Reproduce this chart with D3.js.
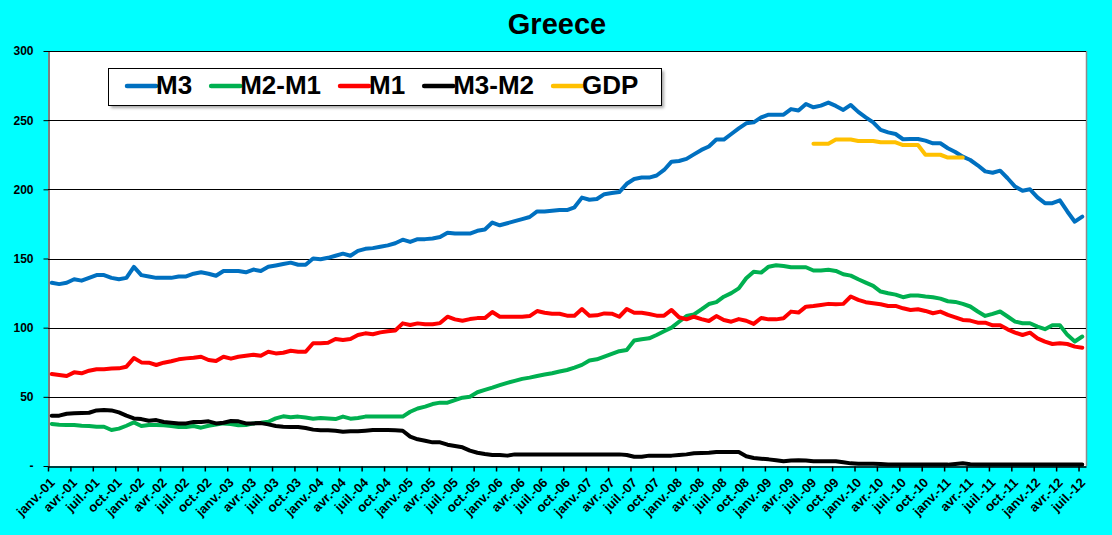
<!DOCTYPE html>
<html>
<head>
<meta charset="utf-8">
<script src="https://cdn.jsdelivr.net/npm/d3@7"></script>
<style>
  html, body { margin: 0; padding: 0; background: #00FFFF; }
  svg { display: block; font-family: "Liberation Sans", Arial, sans-serif; }
</style>
</head>
<body>
<svg id="chart"></svg>
<script>
// Greece - monetary aggregates, monthly from janv.-01 to juil.-12
const monthNames = ["janv.", "févr.", "mars", "avr.", "mai", "juin", "juil.", "août", "sept.", "oct.", "nov.", "déc."];
const yearLabels = ["01", "02", "03", "04", "05", "06", "07", "08", "09", "10", "11", "12"];
const nMonths = 139;
const yTicks = [0, 50, 100, 150, 200, 250, 300];

// one line per year (12 months)
const m3 = [
    132.5, 131.5, 132.5, 135, 134, 136, 138, 138, 136, 135, 136, 144,
    138, 137, 136, 136, 136, 137, 137, 139, 140, 139, 137.5, 141,
    141, 141, 140, 142, 141, 144, 145, 146, 147, 145.5, 145.5, 150,
    149.5, 150.5, 152, 153.5, 152, 155.5, 157, 157.5, 158.5, 159.5, 161, 163.6,
    162, 164, 164, 164.5, 165.5, 168.6, 168, 168, 168, 170, 171, 176,
    174, 175.5, 177, 178.5, 180, 184, 184, 184.5, 185, 185, 187, 194,
    192.5, 193, 196.5, 197.3, 198, 204, 207.5, 208.5, 208.5, 210, 214, 220,
    220.5, 222, 225.3, 228.5, 231, 236, 236, 240, 244, 247.7, 248.4, 252,
    254, 254, 254, 258, 257, 261.7, 259.3, 260.5, 262.7, 260.3, 257.4, 261,
    256, 252, 248.4, 243, 241.2, 240, 236.2, 236.4, 236.4, 235.2, 233.3, 233.3,
    229.7, 227, 223.6, 221.2, 217.4, 213, 212, 213.5, 208, 202, 199, 200,
    194.2, 190, 190, 192, 184, 176.6, 180.3
];
const m2m1 = [
    30.4, 29.9, 29.6, 29.6, 29.1, 28.9, 28.4, 28.4, 26, 27, 29.1, 31.5,
    28.9, 29.6, 29.6, 29.4, 28.9, 28.2, 28.2, 28.9, 27.7, 29.1, 29.9, 30.8,
    30.4, 29.4, 29.6, 30.8, 31.3, 32, 34.4, 35.9, 35.2, 35.7, 35, 34.2,
    34.7, 34.4, 33.9, 35.7, 34.2, 34.7, 35.7, 35.7, 35.7, 35.7, 35.7, 35.7,
    39.2, 41.6, 42.9, 44.8, 45.8, 45.8, 47.7, 49.4, 50.1, 53.3, 55, 56.6,
    58.4, 60.1, 61.5, 63, 63.9, 65.1, 66.1, 67.1, 68.3, 69.4, 71.1, 73.1,
    76.2, 77.1, 79.1, 81, 83, 83.9, 90.7, 91.6, 92.3, 94.7, 97.4, 100,
    104.3, 108.4, 109.6, 113.2, 117.1, 118.5, 122.4, 125, 128.4, 135.7, 140.5, 139.8,
    144.1, 145.1, 144.6, 143.7, 143.7, 143.7, 141.3, 141.3, 141.8, 141, 138.6, 137.6,
    135, 132.6, 130.2, 126.1, 124.9, 123.9, 122, 123.2, 123.2, 122.5, 122, 121,
    119.1, 118.6, 117.2, 115.3, 111.7, 108.5, 110, 111.7, 108.1, 104.4, 103.2, 103.2,
    100.8, 98.9, 101.8, 101.8, 94.8, 90, 93.6
];
const m1 = [
    66.5, 65.8, 65.1, 67.7, 67, 68.9, 69.9, 69.9, 70.4, 70.6, 71.8, 78,
    74.9, 74.7, 73, 74.7, 75.7, 77.1, 77.8, 78.3, 79, 76.6, 75.9, 79,
    77.6, 79, 79.7, 80.4, 79.7, 82.6, 81.4, 81.9, 83.3, 82.6, 82.6, 88.7,
    88.7, 89.1, 91.8, 91.1, 91.8, 94.7, 95.9, 95.2, 96.6, 97.4, 98, 103.1,
    101.9, 103.1, 102.4, 102.4, 103.3, 107.9, 106, 105, 106.2, 106.9, 106.9, 111.3,
    107.9, 107.9, 107.9, 107.9, 108.4, 112, 110.8, 110.1, 110.1, 108.7, 108.7, 113.5,
    108.7, 108.9, 110.3, 110.1, 107.9, 113.5, 110.8, 110.8, 109.9, 108.7, 108.7, 112.8,
    107.5, 106, 107.9, 106.2, 104.8, 108.4, 105.5, 104.3, 106.2, 105, 102.7, 107,
    106, 106, 106.8, 111.6, 110.9, 115.2, 115.7, 116.4, 117.2, 116.9, 117.2, 122.5,
    120.1, 118.4, 117.7, 116.9, 115.7, 115.7, 114, 112.8, 113.3, 112.1, 110.4, 111.6,
    109.2, 107.5, 105.6, 105.1, 103.6, 103.6, 101.7, 101.7, 98.8, 96.4, 94.7, 96.4,
    92.3, 89.9, 88.2, 88.7, 88.2, 86.3, 85.5
];
const m3m2 = [
    36.4, 36.4, 37.8, 38.1, 38.3, 38.5, 40.2, 40.5, 40.2, 38.8, 36.4, 34.4,
    33.9, 32.7, 33.2, 31.8, 31.3, 30.8, 30.8, 31.8, 31.8, 32.3, 30.8, 31.3,
    32.5, 32.3, 30.8, 30.8, 31, 30.1, 28.9, 28.4, 28.2, 28.2, 27.5, 26.3,
    25.8, 25.8, 25.5, 24.8, 25.1, 25.1, 25.5, 26, 26, 26, 25.8, 25.5,
    21.2, 19.3, 18.3, 17.1, 17.1, 15.4, 14.5, 13.5, 11.1, 9.6, 8.7, 8,
    8, 7.5, 8.4, 8.4, 8.4, 8.4, 8.4, 8.4, 8.4, 8.4, 8.4, 8.4,
    8.4, 8.4, 8.4, 8.4, 8.4, 8, 6.7, 6.7, 7.5, 7.5, 7.5, 7.5,
    8, 8.4, 9.2, 9.4, 9.6, 10.1, 10.1, 10.1, 10.1, 7, 5.8, 5.3,
    4.8, 4.1, 3.4, 3.9, 4.1, 3.9, 3.4, 3.4, 3.4, 3.4, 2.7, 1.9,
    1.7, 1.7, 1.7, 1.4, 1, 1, 1, 1, 1, 1, 1, 1,
    1, 1.5, 2, 1.2, 1, 1, 1, 1, 1, 1, 1, 1,
    1, 1, 1, 1, 1, 1, 1
];
// GDP only covers juil.-09 .. janv.-11
const gdpStart = "juil.-09";
const gdp = [233, 233, 233, 236, 236, 236, 235, 235, 235, 234, 234, 234, 232, 232, 232, 225, 225, 225, 223, 223, 223];

const seriesNames = ["M3", "M2-M1", "M1", "M3-M2", "GDP"];
const seriesColors = ["#0070C0", "#00B050", "#FF0000", "#000000", "#FFC000"];

// month labels janv.-01 ... juil.-12
var categories = [];
yearLabels.forEach(function(yy) {
    monthNames.forEach(function(mm) {
        if (categories.length < nMonths) categories.push(mm + "-" + yy);
    });
});

const gdpFull = categories.map(function(c, i) {
    const k = i - categories.indexOf(gdpStart);
    return (k >= 0 && k < gdp.length) ? gdp[k] : null;
});
const seriesData = [m3, m2m1, m1, m3m2, gdpFull];

const width = 1112, height = 535;
const margin = { left: 48, top: 51, right: 26, bottom: 69 };

const svg = d3.select("#chart")
    .attr("width", width)
    .attr("height", height);

svg.append("rect")
    .attr("width", width)
    .attr("height", height)
    .attr("fill", "#00FFFF");

const x = d3.scaleLinear()
    .domain([0, nMonths])
    .range([margin.left, width - margin.right]);

const y = d3.scaleLinear()
    .domain([0, 300])
    .range([height - margin.bottom, margin.top]);

// plot area
svg.append("rect")
    .attr("x", margin.left)
    .attr("y", margin.top)
    .attr("width", width - margin.left - margin.right)
    .attr("height", height - margin.top - margin.bottom)
    .attr("fill", "#ffffff");

svg.append("line")
    .attr("x1", width - margin.right + 0.5)
    .attr("x2", width - margin.right + 0.5)
    .attr("y1", margin.top)
    .attr("y2", height - margin.bottom)
    .attr("stroke", "#8c8c8c")
    .attr("stroke-width", 1.5);

// gridlines
svg.append("g")
    .selectAll("line")
    .data(yTicks.filter(d => d > 0))
    .join("line")
    .attr("x1", margin.left)
    .attr("x2", width - margin.right)
    .attr("y1", d => Math.round(y(d)) + 0.5)
    .attr("y2", d => Math.round(y(d)) + 0.5)
    .attr("stroke", "#000")
    .attr("stroke-width", 1);

// y axis
const yAxis = svg.append("g")
    .attr("transform", `translate(${margin.left + 0.5},0)`)
    .call(d3.axisLeft(y)
        .tickValues(yTicks)
        .tickSize(5)
        .tickSizeOuter(0)
        .tickPadding(10)
        .tickFormat(d => d === 0 ? "-" : d));
yAxis.selectAll("text")
    .style("font-size", "12px")
    .style("font-weight", "bold")
    .attr("fill", "#000");
yAxis.selectAll("line, path").attr("stroke", "#000");

// x axis, ticks every quarter
const xAxis = svg.append("g")
    .attr("transform", `translate(0,${height - margin.bottom + 0.5})`)
    .call(d3.axisBottom(x)
        .tickValues(d3.range(0, nMonths, 3))
        .tickSize(5)
        .tickSizeOuter(0)
        .tickFormat(i => categories[i]));
xAxis.selectAll("line, path").attr("stroke", "#000").attr("stroke-width", 1.5);
xAxis.selectAll("text")
    .attr("x", 0)
    .attr("y", 0)
    .attr("dy", null)
    .attr("text-anchor", "end")
    .attr("transform", "translate(7,17) rotate(-45)")
    .style("font-size", "13px")
    .style("font-weight", "bold")
    .attr("fill", "#000");

// series
const line = d3.line()
    .defined(d => d != null)
    .x((d, i) => x(i + 0.5))
    .y(d => y(d));

svg.append("g")
    .selectAll("path")
    .data(seriesData)
    .join("path")
    .attr("d", d => line(d))
    .attr("fill", "none")
    .attr("stroke", (d, i) => seriesColors[i])
    .attr("stroke-width", 4)
    .attr("stroke-linejoin", "round")
    .attr("stroke-linecap", "round");

// title
svg.append("text")
    .attr("x", 557)
    .attr("y", 34)
    .attr("text-anchor", "middle")
    .style("font-size", "29px")
    .style("font-weight", "bold")
    .text("Greece");

// legend
const defs = svg.append("defs");
defs.append("filter")
    .attr("id", "shadow")
    .append("feGaussianBlur")
    .attr("stdDeviation", 1.5);

const legend = svg.append("g").attr("transform", "translate(108,68)");
legend.append("rect")
    .attr("x", 3)
    .attr("y", 3)
    .attr("width", 553)
    .attr("height", 37)
    .attr("fill", "#808080")
    .attr("opacity", 0.7)
    .attr("filter", "url(#shadow)");
legend.append("rect")
    .attr("x", 0.5)
    .attr("y", 0.5)
    .attr("width", 553)
    .attr("height", 37)
    .attr("fill", "#fff")
    .attr("stroke", "#000")
    .attr("stroke-width", 1);

var lx = 19;
seriesNames.forEach(function(name, i) {
    legend.append("line")
        .attr("x1", lx)
        .attr("x2", lx + 29)
        .attr("y1", 18)
        .attr("y2", 18)
        .attr("stroke", seriesColors[i])
        .attr("stroke-width", 4.5)
        .attr("stroke-linecap", "round");
    const t = legend.append("text")
        .attr("x", lx + 29)
        .attr("y", 25.5)
        .style("font-size", "26px")
        .style("font-weight", "bold")
        .text(name);
    lx += 29 + t.node().getComputedTextLength() + 19;
});
</script>
</body>
</html>
